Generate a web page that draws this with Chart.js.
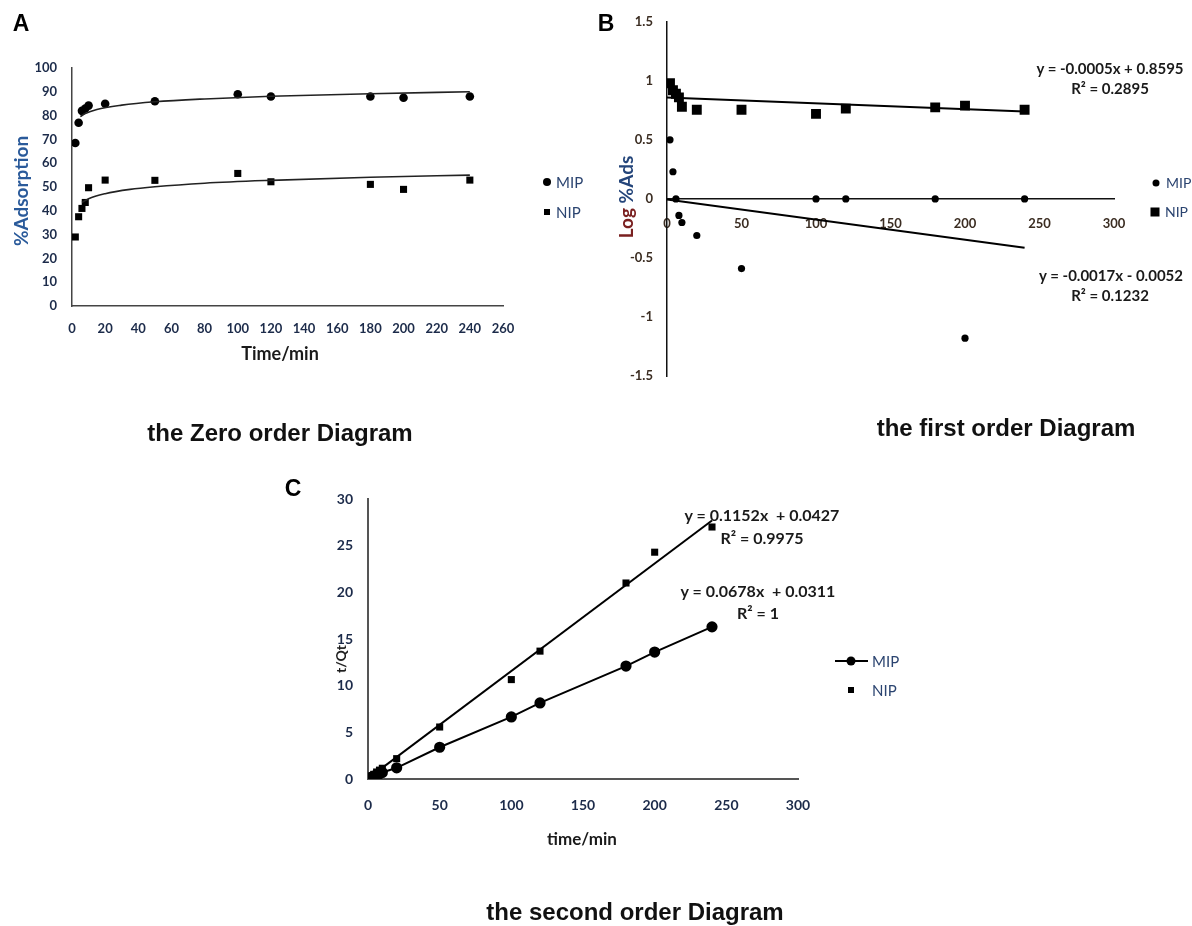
<!DOCTYPE html>
<html>
<head>
<meta charset="utf-8">
<script src="https://cdn.jsdelivr.net/npm/chart.js@4.4.1/dist/chart.umd.min.js"></script>
<style>
  html, body { margin: 0; padding: 0; background: #ffffff; }
  #page { position: relative; width: 1192px; height: 926px; overflow: hidden; background: #fff; }
  canvas { position: absolute; left: 0; top: 0; }
  .t { position: absolute; white-space: nowrap; transform: translate(-50%, -50%); line-height: 1; }
  .l { position: absolute; white-space: nowrap; transform: translate(0, -50%); line-height: 1; }
  .cap { font-family: "Liberation Sans", Arial, sans-serif; font-weight: bold; font-size: 24px; color: #111; }
  .letter { font-family: "Liberation Sans", Arial, sans-serif; font-weight: bold; font-size: 23px; color: #000; }
  .eq { font-family: Lato, "Open Sans", sans-serif; font-weight: bold; color: #1a1a1a; }
  .axt { font-family: Lato, "Open Sans", sans-serif; font-weight: bold; }
  .leg { font-family: Lato, "Open Sans", sans-serif; font-size: 15px; color: #2b4470; }
  .dot { position: absolute; border-radius: 50%; background: #000; transform: translate(-50%, -50%); }
  .sq { position: absolute; background: #000; transform: translate(-50%, -50%); }
  .ln { position: absolute; background: #000; transform: translate(0, -50%); }
</style>
</head>
<body>
<div id="page">
  <canvas id="cA" width="1192" height="926"></canvas>
  <canvas id="cB" width="1192" height="926"></canvas>
  <canvas id="cC" width="1192" height="926"></canvas>

  <!-- panel letters -->
  <div class="t letter" style="left:21px;top:23px;">A</div>
  <div class="t letter" style="left:606px;top:23px;">B</div>
  <div class="t letter" style="left:293px;top:488px;">C</div>

  <!-- Panel A texts -->
  <div class="t axt" style="left:20px;top:191px;font-size:19px;color:#2a5a9a;transform:translate(-50%,-50%) rotate(-90deg);">%Adsorption</div>
  <div class="t axt" style="left:280px;top:353px;font-size:18px;color:#1a1a1a;">Time/min</div>
  <div class="dot" style="left:547px;top:182px;width:8px;height:8px;"></div>
  <div class="l leg" style="left:556px;top:182px;">MIP</div>
  <div class="sq" style="left:547px;top:212px;width:6px;height:6px;"></div>
  <div class="l leg" style="left:556px;top:212px;">NIP</div>
  <div class="t cap" style="left:280px;top:433px;">the Zero order Diagram</div>

  <!-- Panel B texts -->
  <div class="t axt" style="left:625px;top:197px;font-size:19px;transform:translate(-50%,-50%) rotate(-90deg);"><span style="color:#7a2020;">Log</span> <span style="color:#24457a;">%Ads</span></div>
  <div class="t eq" style="left:1110px;top:68px;font-size:15px;">y = -0.0005x + 0.8595</div>
  <div class="t eq" style="left:1110px;top:88px;font-size:15px;">R² = 0.2895</div>
  <div class="t eq" style="left:1111px;top:275px;font-size:15px;">y = -0.0017x - 0.0052</div>
  <div class="t eq" style="left:1110px;top:295px;font-size:15px;">R² = 0.1232</div>
  <div class="dot" style="left:1156px;top:183px;width:7px;height:7px;"></div>
  <div class="l leg" style="left:1166px;top:183px;font-size:14px;">MIP</div>
  <div class="sq" style="left:1155px;top:212px;width:9px;height:9px;"></div>
  <div class="l leg" style="left:1165px;top:212px;font-size:14px;">NIP</div>
  <div class="t cap" style="left:1006px;top:428px;">the first order Diagram</div>

  <!-- Panel C texts -->
  <div class="t axt" style="left:341px;top:659px;font-size:14px;color:#1a1a1a;transform:translate(-50%,-50%) rotate(-90deg);">t/Qt</div>
  <div class="t axt" style="left:582px;top:838px;font-size:17px;color:#1a1a1a;">time/min</div>
  <div class="t eq" style="left:762px;top:515px;font-size:16px;">y = 0.1152x&nbsp; + 0.0427</div>
  <div class="t eq" style="left:762px;top:538px;font-size:16px;">R² = 0.9975</div>
  <div class="t eq" style="left:758px;top:591px;font-size:16px;">y = 0.0678x&nbsp; + 0.0311</div>
  <div class="t eq" style="left:758px;top:613px;font-size:16px;">R² = 1</div>
  <div class="ln" style="left:835px;top:661px;width:33px;height:2px;"></div>
  <div class="dot" style="left:851px;top:661px;width:9px;height:9px;"></div>
  <div class="l leg" style="left:872px;top:661px;">MIP</div>
  <div class="sq" style="left:851px;top:690px;width:6px;height:6px;"></div>
  <div class="l leg" style="left:872px;top:690px;">NIP</div>
  <div class="t cap" style="left:635px;top:912px;">the second order Diagram</div>
</div>

<script>
// ---------------- DATA ----------------
const timeMin = [2, 4, 6, 8, 10, 20, 50, 100, 120, 180, 200, 240];

// Panel A: zero order (%Adsorption)
const zeroMIP = [68.5, 77, 82, 83, 84.2, 85, 86, 89, 88, 88, 87.5, 88];
const zeroNIP = [29, 37.5, 41, 43.5, 49.7, 52.9, 52.8, 55.7, 52.2, 51.1, 49, 52.9];
const zeroFitMIPx = [5, 8, 15, 30, 50, 80, 120, 180, 240];
const zeroFitMIPy = [79.6, 80.9, 82.6, 84.4, 85.8, 87.0, 88.1, 89.2, 90.0];
const zeroFitNIPx = [6, 10, 20, 35, 50, 80, 120, 180, 240];
const zeroFitNIPy = [43.5, 45.1, 47.2, 49.0, 50.1, 51.6, 52.8, 54.1, 55.0];
const aXTicks = [0, 20, 40, 60, 80, 100, 120, 140, 160, 180, 200, 220, 240, 260];
const aYTicks = [0, 10, 20, 30, 40, 50, 60, 70, 80, 90, 100];

// Panel B: first order (Log %Ads)
const firstMIP = [0.5, 0.23, 0, -0.14, -0.2, -0.31, -0.59, 0, 0, 0, -1.18, 0];
const firstNIP = [0.98, 0.92, 0.89, 0.86, 0.78, 0.755, 0.755, 0.72, 0.765, 0.775, 0.79, 0.755];
const firstTrendX = [0, 240];
const firstTrendNIP = [0.8595, 0.7395];
const firstTrendMIP = [-0.0052, -0.4132];
const bXTicks = [0, 50, 100, 150, 200, 250, 300];
const bYTicks = [-1.5, -1, -0.5, 0, 0.5, 1, 1.5];

// Panel C: second order (t/Qt)
const secondMIP = [0.17, 0.3, 0.43, 0.56, 0.7, 1.2, 3.4, 6.65, 8.15, 12.1, 13.6, 16.3];
const secondNIP = [0.25, 0.5, 0.75, 0.95, 1.15, 2.18, 5.57, 10.65, 13.7, 21.0, 24.3, 27.0];
const secondTrendX = [0, 240];
const secondTrendNIP = [0.0427, 27.69];
const cXTicks = [0, 50, 100, 150, 200, 250, 300];
const cYTicks = [0, 5, 10, 15, 20, 25, 30];

// ---------------- HELPERS ----------------
const pts = (xs, ys) => xs.map((x, i) => ({ x: x, y: ys[i] }));
const fixTicks = (arr) => (s) => { s.ticks = arr.map(v => ({ value: v })); };
const fixW = (w) => (s) => { s.width = w; };
const fixH = (h) => (s) => { s.height = h; };

function scaleX(min, max, ticks, tickFont, tickColor, pad, border, extra) {
  return Object.assign({
    type: 'linear', min: min, max: max,
    grid: { display: false, drawTicks: false },
    border: border,
    ticks: { font: tickFont, color: tickColor, padding: pad, autoSkip: false, maxRotation: 0, callback: v => String(v) },
    afterBuildTicks: fixTicks(ticks),
    afterFit: fixH(40)
  }, extra || {});
}
function scaleY(min, max, ticks, tickFont, tickColor, pad, border) {
  return {
    type: 'linear', min: min, max: max,
    grid: { display: false, drawTicks: false },
    border: border,
    ticks: { font: tickFont, color: tickColor, padding: pad, autoSkip: false, callback: v => String(v) },
    afterBuildTicks: fixTicks(ticks),
    afterFit: fixW(60)
  };
}
const baseOpts = (padding, scales) => ({
  responsive: false, animation: false, devicePixelRatio: 1,
  layout: { padding: padding },
  plugins: { legend: { display: false }, tooltip: { enabled: false } },
  scales: scales
});

// ---------------- PANEL A ----------------
const fontA = { family: 'Lato', weight: 'bold', size: 13 };
new Chart(document.getElementById('cA'), {
  type: 'scatter',
  data: {
    datasets: [
      { data: pts(zeroFitMIPx, zeroFitMIPy), showLine: true, pointRadius: 0, borderColor: '#222', borderWidth: 1.6, cubicInterpolationMode: 'monotone' },
      { data: pts(zeroFitNIPx, zeroFitNIPy), showLine: true, pointRadius: 0, borderColor: '#222', borderWidth: 1.6, cubicInterpolationMode: 'monotone' },
      { label: 'MIP', data: pts(timeMin, zeroMIP), pointStyle: 'circle', pointRadius: 4.3, backgroundColor: '#000', borderColor: '#000', borderWidth: 0 },
      { label: 'NIP', data: pts(timeMin, zeroNIP), pointStyle: 'rect', pointRadius: 5, backgroundColor: '#000', borderColor: '#000', borderWidth: 0 }
    ]
  },
  options: baseOpts({ left: 12, top: 68, right: 689, bottom: 580 }, {
    x: scaleX(0, 260, aXTicks, fontA, '#1c2b4a', 15, { color: '#444', width: 1.5 }),
    y: scaleY(0, 100, aYTicks, fontA, '#1c2b4a', 15, { color: '#444', width: 1.5 })
  })
});

// ---------------- PANEL B ----------------
const fontB = { family: 'Lato', weight: 'bold', size: 13 };
new Chart(document.getElementById('cB'), {
  type: 'scatter',
  data: {
    datasets: [
      { data: pts(firstTrendX, firstTrendNIP), showLine: true, pointRadius: 0, borderColor: '#000', borderWidth: 2 },
      { data: pts(firstTrendX, firstTrendMIP), showLine: true, pointRadius: 0, borderColor: '#000', borderWidth: 2 },
      { label: 'MIP', data: pts(timeMin, firstMIP), pointStyle: 'circle', pointRadius: 3.6, backgroundColor: '#000', borderColor: '#000', borderWidth: 0 },
      { label: 'NIP', data: pts(timeMin, firstNIP), pointStyle: 'rect', pointRadius: 7, backgroundColor: '#000', borderColor: '#000', borderWidth: 0 }
    ]
  },
  options: baseOpts({ left: 607, top: 18, right: 78, bottom: 550 }, {
    x: scaleX(0, 300, bXTicks, fontB, '#3b2d22', 17, { color: '#111', width: 1.5 }, { position: { y: 0 } }),
    y: scaleY(-1.5, 1.5, bYTicks, fontB, '#3b2d22', 14, { color: '#111', width: 1.5 })
  })
});

// ---------------- PANEL C ----------------
const fontC = { family: 'Lato', weight: 'bold', size: 14 };
new Chart(document.getElementById('cC'), {
  type: 'scatter',
  data: {
    datasets: [
      { data: pts(secondTrendX, secondTrendNIP), showLine: true, pointRadius: 0, borderColor: '#000', borderWidth: 2 },
      { label: 'NIP', data: pts(timeMin, secondNIP), pointStyle: 'rect', pointRadius: 5, backgroundColor: '#000', borderColor: '#000', borderWidth: 0 },
      { label: 'MIP', data: pts(timeMin, secondMIP), showLine: true, pointStyle: 'circle', pointRadius: 4.6, backgroundColor: '#000', borderColor: '#000', borderWidth: 2 }
    ]
  },
  options: baseOpts({ left: 308, top: 499, right: 394, bottom: 107 }, {
    x: scaleX(0, 300, cXTicks, fontC, '#1c2b4a', 18, { color: '#555', width: 2 }),
    y: scaleY(0, 30, cYTicks, fontC, '#1c2b4a', 15, { color: '#555', width: 2 })
  })
});
</script>
</body>
</html>
